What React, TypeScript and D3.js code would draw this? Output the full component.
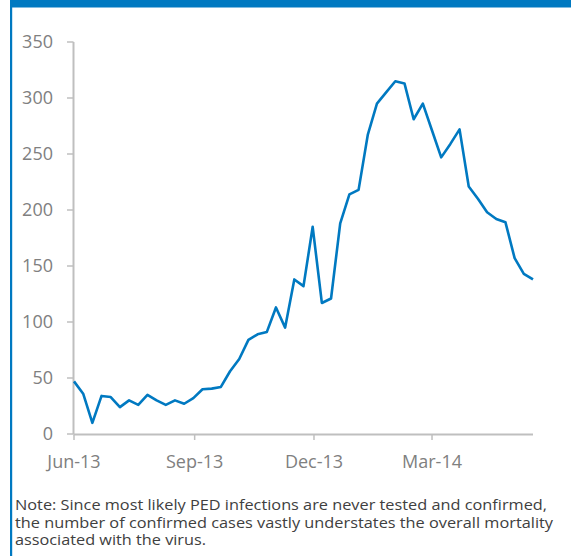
import React from "react";
import * as d3 from "d3";

// Weekly confirmed PED cases, starting week of 1 June 2013
const startDate = new Date(2013, 5, 1);
const weeklyCases = [
  47, 36, 10, 34, 33, 24, 30, 26, 35, 30, 26, 30, 27, 32, 40, 40.5, 42, 56, 67,
  84, 89, 91, 113, 95, 138, 132, 185, 117, 121, 188, 214, 218, 267, 295, 305,
  315, 313, 281, 295, 271, 247, 259, 272, 221, 210, 198, 192, 189, 157, 143, 138,
];
const yTicks = [0, 50, 100, 150, 200, 250, 300, 350];
const xTickDates = [
  new Date(2013, 5, 1),
  new Date(2013, 8, 1),
  new Date(2013, 11, 1),
  new Date(2014, 2, 1),
];
const noteLines = [
  "Note: Since most likely PED infections are never tested and confirmed,",
  "the number of confirmed cases vastly understates the overall mortality",
  "associated with the virus.",
];

const W = 571;
const H = 556;
const BLUE = "#0079c1";
const AXIS = "#bfbfbf";
const LABEL = "#808080";
const FONT = "'Open Sans', 'Noto Sans', sans-serif";

export default function App() {
  const series = weeklyCases.map((v, i) => ({
    date: d3.timeDay.offset(startDate, i * 7),
    value: v,
  }));
  const lastDate = series[series.length - 1].date;

  const x = d3.scaleTime().domain([startDate, lastDate]).range([74, 533]);
  const y = d3.scaleLinear().domain([0, 350]).range([434, 42]);

  const line = d3
    .line<{ date: Date; value: number }>()
    .x((d) => x(d.date))
    .y((d) => y(d.value));

  const fmt = d3.timeFormat("%b-%y");
  const noteWidths = [532, 538, 191];

  return (
    <svg
      width={W}
      height={H}
      style={{ position: "absolute", left: 0, top: 0, background: "#fff" }}
    >
      {/* frame accents */}
      <rect x={10} y={0} width={W - 10} height={7.5} fill={BLUE} />
      <rect x={10} y={0} width={2.2} height={H} fill={BLUE} />

      {/* y axis */}
      <line x1={73.5} x2={73.5} y1={y(350)} y2={y(0)} stroke={AXIS} strokeWidth={2} />
      {yTicks.map((t) => (
        <g key={t}>
          <line x1={67} x2={73.5} y1={y(t)} y2={y(t)} stroke={AXIS} strokeWidth={1.5} />
          <text
            x={53}
            y={y(t)}
            dy="0.36em"
            textAnchor="end"
            fontFamily={FONT}
            fontSize={18}
            fill={LABEL}
          >
            {t}
          </text>
        </g>
      ))}

      {/* x axis */}
      <line x1={73.5} x2={533} y1={434.5} y2={434.5} stroke={AXIS} strokeWidth={2} />
      {xTickDates.map((d) => (
        <g key={d.getTime()}>
          <line x1={x(d)} x2={x(d)} y1={434.5} y2={440} stroke={AXIS} strokeWidth={1.5} />
          <text
            x={x(d)}
            y={468}
            textAnchor="middle"
            fontFamily={FONT}
            fontSize={18}
            fill={LABEL}
          >
            {fmt(d)}
          </text>
        </g>
      ))}

      {/* series */}
      <path
        d={line(series) ?? ""}
        fill="none"
        stroke={BLUE}
        strokeWidth={2.6}
        strokeLinejoin="round"
      />

      {/* footnote */}
      {noteLines.map((t, i) => (
        <text
          key={i}
          x={15}
          y={510 + i * 17.5}
          fontFamily={FONT}
          fontSize={14.5}
          fill="#404040"
          textLength={noteWidths[i]}
          lengthAdjust="spacingAndGlyphs"
        >
          {t}
        </text>
      ))}
    </svg>
  );
}
